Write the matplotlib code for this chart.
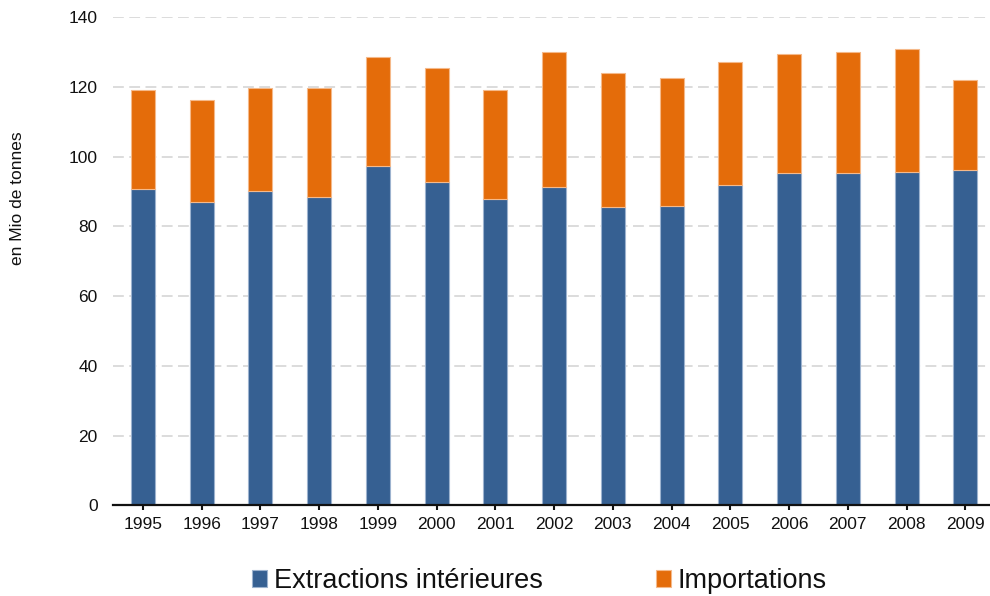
import matplotlib
matplotlib.use("Agg")
import matplotlib.pyplot as plt
import numpy as np

years = ["1995", "1996", "1997", "1998", "1999", "2000", "2001", "2002",
         "2003", "2004", "2005", "2006", "2007", "2008", "2009"]
extractions = [90.8, 87.0, 90.3, 88.4, 97.3, 92.8, 88.0, 91.3,
               85.5, 85.9, 91.8, 95.2, 95.2, 95.7, 96.2]
totals = [119.2, 116.4, 119.7, 119.7, 128.5, 125.5, 119.2, 130.1,
          124.1, 122.6, 127.1, 129.5, 130.1, 131.0, 122.1]
importations = [t - e for t, e in zip(totals, extractions)]

plt.rcParams['font.family'] = ['Liberation Sans', 'DejaVu Sans']

fig = plt.figure(figsize=(9.9, 5.96), dpi=100)
ax = fig.add_axes([0.1141, 0.152, 0.8859, 0.819])

x = np.arange(len(years))
w = 0.41
blue = "#366092"
orange = "#E46C0A"
ax.bar(x, extractions, w, color=blue, edgecolor="#9db3cf", linewidth=0.8,
       label="Extractions intérieures", zorder=3)
ax.bar(x, importations, w, bottom=extractions, color=orange, edgecolor="#f5b98a",
       linewidth=0.8, label="Importations", zorder=3)

ax.set_ylim(0, 140)
ax.set_xlim(-0.51, 14.42)
ax.set_yticks(range(0, 141, 20))
ax.yaxis.grid(True, color="#d9d9d9", linestyle=(0, (6, 3)), linewidth=1.3, zorder=0)
ax.set_axisbelow(True)
for s in ["top", "right", "left"]:
    ax.spines[s].set_visible(False)
ax.spines["bottom"].set_color("#111111")
ax.spines["bottom"].set_linewidth(1.6)
ax.spines["bottom"].set_zorder(4)
ax.set_xticks(x)
ax.set_xticklabels(years)
ax.tick_params(axis="x", length=3.5, width=1.5, color="#111111", labelsize=12.5, pad=5,
               labelcolor="#111111")
ax.tick_params(axis="y", length=0, labelsize=12.5, pad=11, labelcolor="#111111")

fig.text(0.018, 0.668, "en Mio de tonnes", rotation=90, ha="center", va="center",
         fontsize=12.5, color="#111111")

handles, labels = ax.get_legend_handles_labels()
fig.legend(handles, labels, loc="center", bbox_to_anchor=(0.545, 0.025),
           ncol=2, frameon=False, fontsize=19.5, handlelength=0.55, handleheight=0.55,
           handletextpad=0.25, columnspacing=4.2, borderpad=0, labelcolor="#111111")

fig.savefig("out.png", dpi=100)
